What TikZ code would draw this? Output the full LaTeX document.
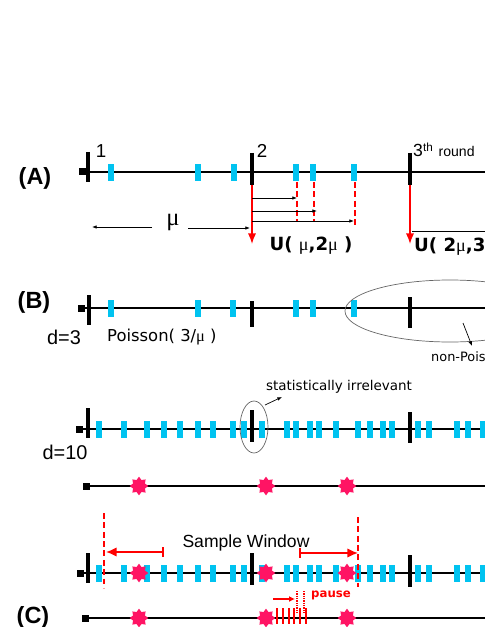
\documentclass[tikz,border=0pt]{standalone}
\usepackage{fontspec}
\setmainfont{Liberation Sans}
\newfontfamily\hand{DejaVu Sans}
\newfontfamily\greek{Liberation Serif}
\usetikzlibrary{arrows.meta,shapes.geometric}
\definecolor{barblue}{RGB}{0,195,240}
\definecolor{xpink}{RGB}{255,20,100}

\begin{document}
\begin{tikzpicture}[x=0.03cm,y=-0.03cm,
		axis/.style={line width=2pt},
		tick/.style={line width=2.6pt},
		ev/.style={fill=barblue},
		hit/.style={star,star points=8,star point ratio=1.45,fill=xpink,inner sep=0pt,minimum size=0.56cm},
		redarrow/.style={red,line width=1.3pt,-{Latex[length=9pt,width=7pt]}},
		thinarrow/.style={line width=0.6pt,-{Latex[length=4pt,width=3pt]}},
		reddash/.style={red,line width=1.2pt,dash pattern=on 5pt off 3pt},
		winarrow/.style={red,line width=1.4pt,{Bar[width=8pt]}-{Latex[length=9pt,width=8pt]}},
		lbl/.style={font=\fontsize{16}{18}\selectfont},
		dlbl/.style={font=\fontsize{17}{20}\selectfont},
		part/.style={font=\fontsize{20}{24}\selectfont\bfseries},
		ulbl/.style={font=\hand\bfseries\fontsize{15.5}{18}\selectfont},
		note/.style={font=\hand\fontsize{11.5}{14}\selectfont}]
			\useasboundingbox (0,0) rectangle (485,627);
			\clip (0,0) rectangle (485,627);
			
			% (A) rounds of length mu
			\draw[axis] (82,172) -- (485,172);
			\fill (79,168.5) rectangle (86,175.5);
			\foreach \x in {111,198,234,296,313,354}
				\fill[ev] (\x-3,164) rectangle (\x+3,181);
			\draw[tick] (88,152) -- (88,182);
			\draw[tick] (252,153) coordinate (t2top) -- (252,185) coordinate (t2a);
			\draw[tick] (410,153) -- (410,185) coordinate (t3a);
			\node[lbl] (r1) at (101,151) {1};
			\node[lbl] (r2) at (262,151) {2};
			\node[anchor=base west,inner sep=0pt] (r3) at (413,157) {\fontsize{15}{17}\selectfont 3\raisebox{5pt}{\fontsize{10}{11}\selectfont th}\hspace{5pt}{\fontsize{12}{14}\selectfont round}};
			\node[part] (pa) at (35,178) {(A)};
			
			\coordinate (u1) at (252,244);
			\coordinate (u2) at (410,244);
			\draw[redarrow] (t2a) -- (u1);
			\draw[redarrow] (t3a) -- (u2);
			
			\coordinate (d1) at (297,222);
			\coordinate (d2) at (314,222);
			\coordinate (d3) at (355,226);
			\draw[reddash] (297,182) -- (d1);
			\draw[reddash] (314,182) -- (d2);
			\draw[reddash] (355,182) -- (d3);
			\draw[thinarrow] (252,198) -- (297,198);
			\draw[thinarrow] (252,211) -- (317,211);
			\draw[thinarrow] (252,221) -- (354,221);
			
			\node[font=\greek\fontsize{21}{24}\selectfont] (mu) at (173,222) {μ};
			\coordinate (muL) at (92,227);
			\coordinate (muR) at (250,228);
			\draw[thinarrow] (152,227) -- (muL);
			\draw[thinarrow] (188,228) -- (muR);
			\node[ulbl] (U1) at (311,246) {U( {\greek\mdseries μ},2{\greek\mdseries μ} )};
			\node[ulbl,anchor=west,inner sep=0pt] (U2) at (414,247) {U( 2{\greek\mdseries μ},3};
			\draw[line width=0.6pt] (412,231) -- (485,231);
			
			% (B) d=3
			\draw[axis] (83,308) -- (485,308);
			\fill (78,304.5) rectangle (85,311.5);
			\foreach \x in {111,198,233,296,313,354}
				\fill[ev] (\x-3,300) rectangle (\x+3,317);
			\draw[tick] (89,295) -- (89,325);
			\draw[tick] (252,301) -- (252,327);
			\draw[tick] (410,297) -- (410,328);
			\node[part] (pb) at (34,302) {(B)};
			\node[dlbl] (d3lbl) at (64,337) {d=3};
			\node[font=\hand\fontsize{14}{16}\selectfont,anchor=west,inner sep=0pt] (pois) at (107,337) {Poisson( 3/{\greek μ} )};
			\node[draw=black!60,line width=0.6pt,ellipse,minimum width=6.3cm,minimum height=1.86cm,inner sep=0pt] (np) at (450,311) {};
			\node[font=\hand\fontsize{11}{13}\selectfont,anchor=west,inner sep=0pt] (nplbl) at (431,357) {non-Pois};
			\coordinate (npa) at (463,323);
			\draw[thinarrow] (npa) -- (472,346);
			
			% d=10
			\draw[axis] (82,429) -- (485,429);
			\fill (76,425.5) rectangle (83,432.5);
			\foreach \x in {99,124,147,164,180,198,213,233,244,262,287,296,310,319,336,358,370,383,392,418,429,457,468,483}
				\fill[ev] (\x-3,420.5) rectangle (\x+3,437.5);
			\draw[tick] (88,408) -- (88,438);
			\draw[tick] (252,410) -- (252,442);
			\draw[tick] (410,412) -- (410,443);
			\node[dlbl] (d10lbl) at (65,452) {d=10};
			\node[draw=black!60,line width=0.6pt,ellipse,minimum width=0.84cm,minimum height=1.56cm,inner sep=0pt] (irr) at (254,427) {};
			\node[note] (irrlbl) at (339,387) {statistically irrelevant};
			\draw[thinarrow] (265,405) -- (282,397);
			
			% detected events
			\draw[axis] (88,486) -- (485,486);
			\fill (83,482.5) rectangle (90,489.5);
			\foreach \x/\n in {139/a,266/b,347/c}
				\node[hit] (x1\n) at (\x,486) {};
			
			% (C) sample window
			\draw[axis] (82,573) -- (485,573);
			\fill (77,569.5) rectangle (84,576.5);
			\foreach \x in {99,124,147,164,180,198,213,233,244,262,287,296,310,319,336,358,370,383,392,418,429,457,468,483}
				\fill[ev] (\x-3,564.5) rectangle (\x+3,581.5);
			\draw[tick] (88,553) -- (88,583);
			\draw[tick] (252,553) -- (252,585);
			\draw[tick] (410,555) -- (410,587);
			\foreach \x/\n in {139/a,266/b,347/c}
				\node[hit] (x2\n) at (\x,573) {};
			\draw[reddash] (104,513) -- (104,588);
			\draw[reddash] (358,517) -- (358,587);
			\coordinate (wl) at (106,552);
			\coordinate (wr) at (358,553);
			\draw[winarrow] (164,552) -- (wl);
			\draw[winarrow] (299,553) -- (wr);
			\node[font=\fontsize{15}{18}\selectfont] (win) at (246,543) {Sample Window};
			
			\draw[axis] (87,618) -- (485,618);
			\fill (82,614.5) rectangle (89,621.5);
			\foreach \x in {277,283,289,294,300,306}
				\draw[red,line width=1.3pt] (\x,608) -- (\x,624);
			\foreach \x/\n in {139/a,266/b,347/c}
				\node[hit] (x3\n) at (\x,618) {};
			\draw[red,line width=0.9pt,dash pattern=on 1pt off 1pt] (297,591) -- (297,614);
			\draw[red,line width=0.9pt,dash pattern=on 1pt off 1pt] (304,591) -- (304,614);
			\coordinate (ps) at (295,599);
			\draw[red,line width=1.2pt,-{Latex[length=5pt,width=5pt]}] (273,599) -- (ps);
			\node[font=\hand\bfseries\fontsize{10}{12}\selectfont,text=red,anchor=west,inner sep=0pt] (pz) at (311,595) {pause};
			\node[part] (pc) at (33,617) {(C)};
		\end{tikzpicture}
\end{document}
